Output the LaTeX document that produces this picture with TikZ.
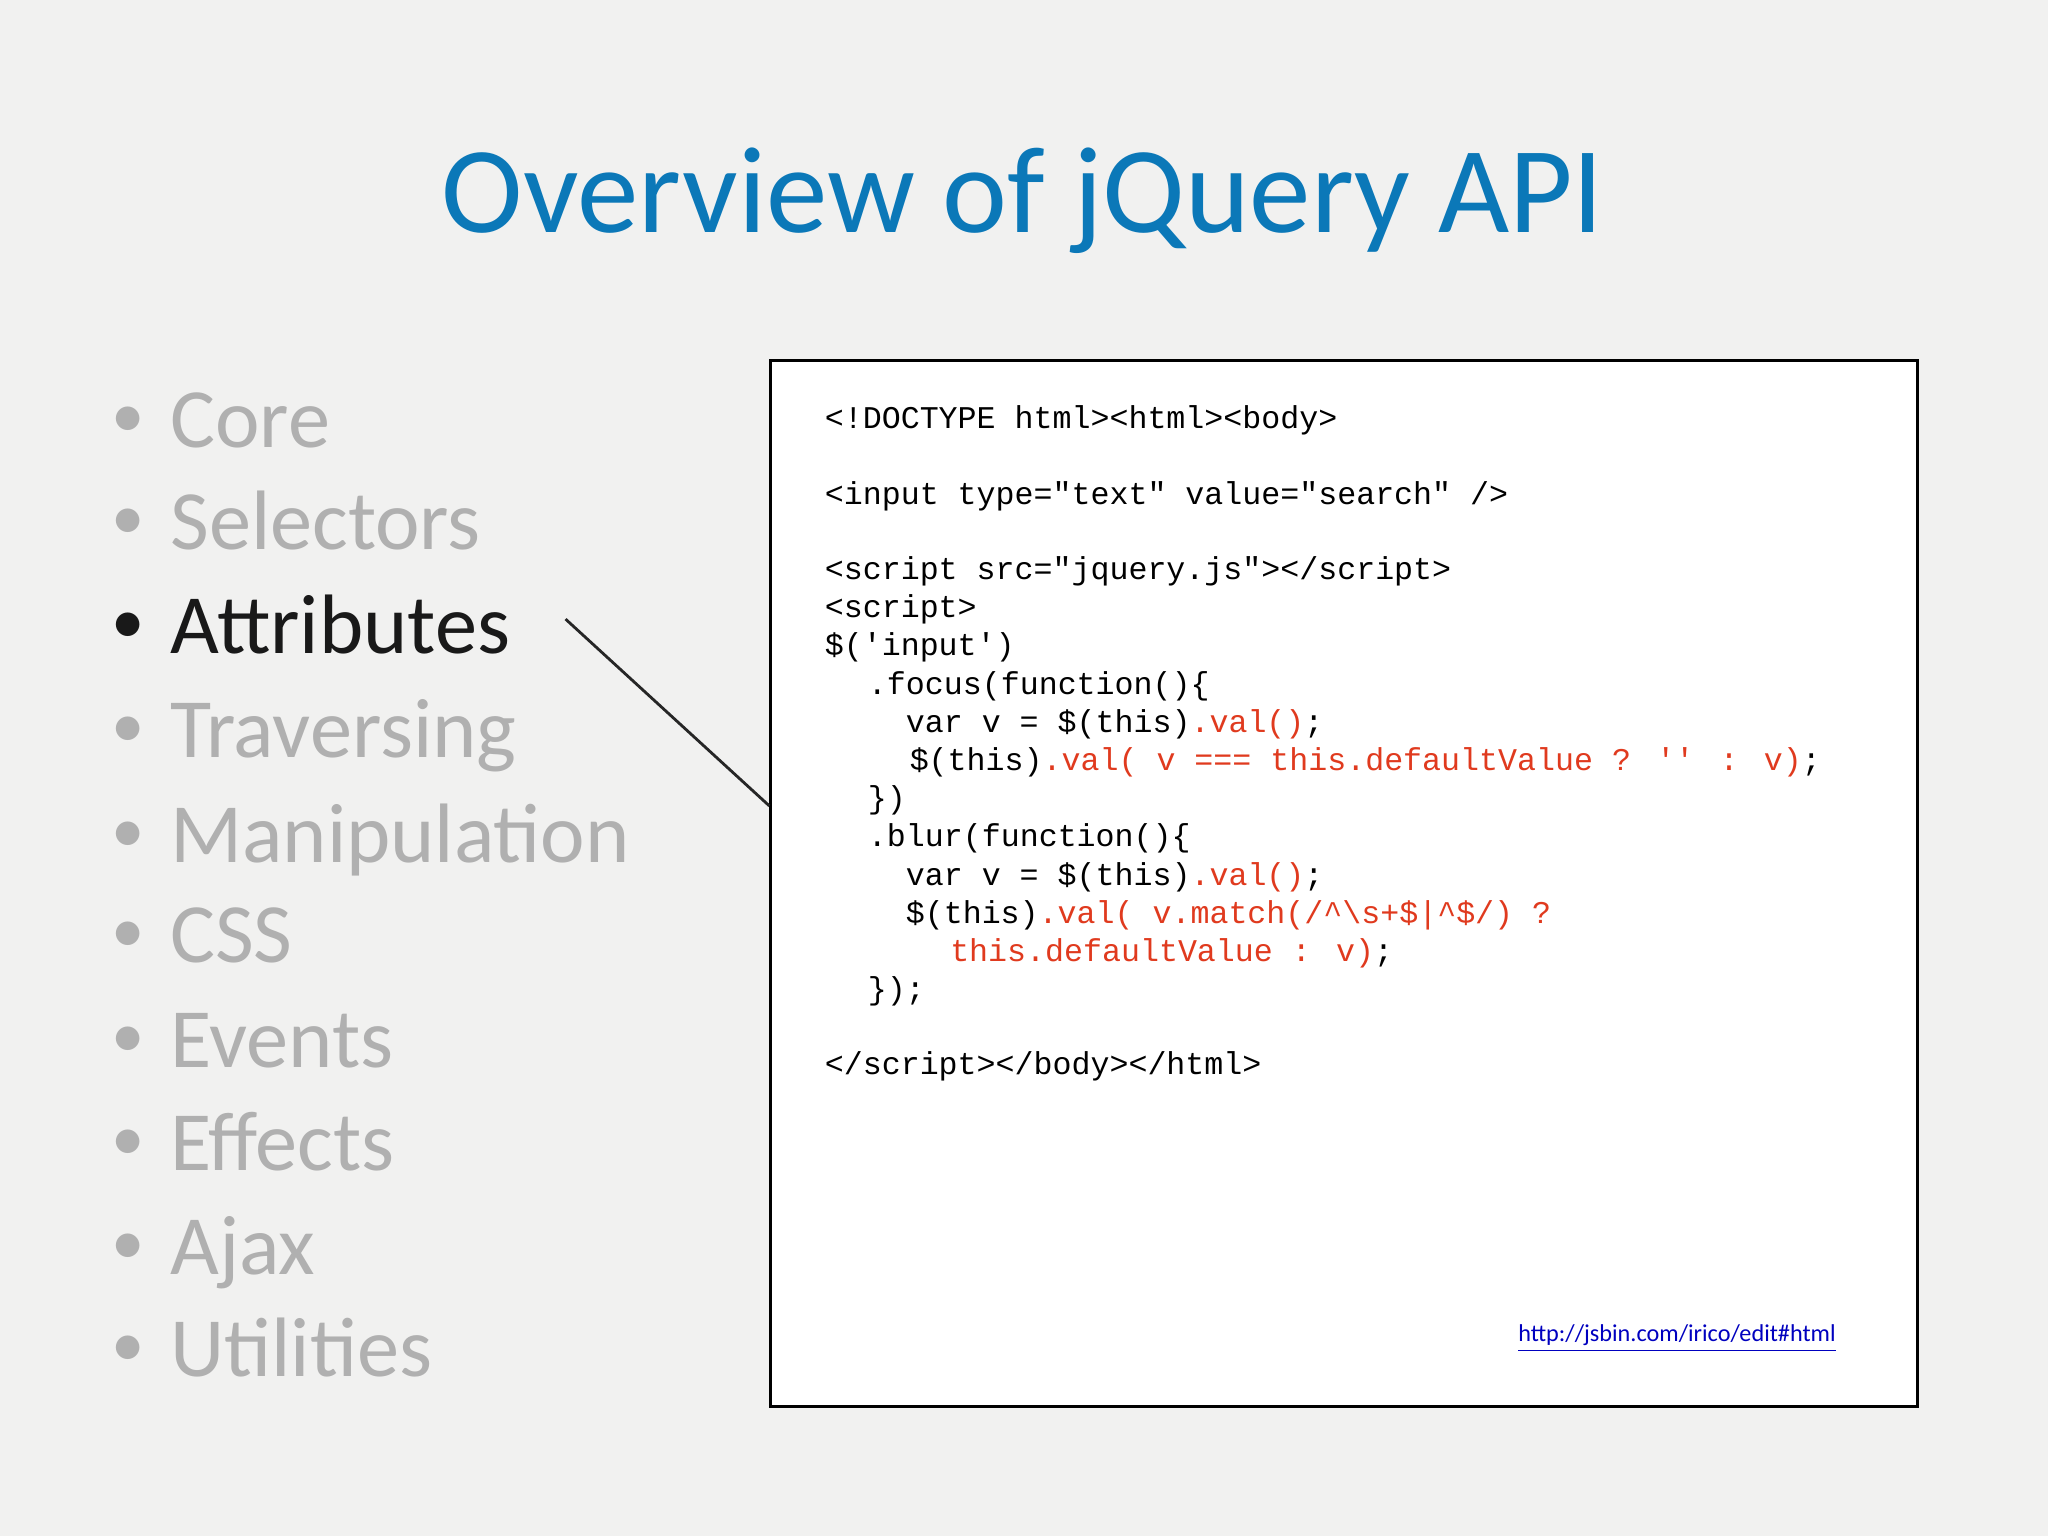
\documentclass[tikz,border=0pt]{standalone}
\usepackage{fontspec}
\setmainfont{Carlito}
\newfontfamily\codefont{Liberation Mono}
\usetikzlibrary{positioning}
\definecolor{titleblue}{HTML}{0B78B8}
\definecolor{itemgray}{HTML}{B0B0B0}
\definecolor{codered}{HTML}{E03A1E}
\definecolor{slidebg}{HTML}{F1F1F0}
\newcommand{\rd}[1]{\textcolor{codered}{#1}}
\newcommand{\bul}{{\fontsize{19}{20}\selectfont\raisebox{0.15em}{•}}\hspace{0.3em}}

\begin{document}
\begin{tikzpicture}[
    x=0.01306cm, y=-0.01306cm,
    item/.style={anchor=base west, inner sep=0pt, text=itemgray, font=\fontsize{24}{28}\selectfont},
    code/.style={anchor=base west, inner sep=0pt, font=\codefont\fontsize{9}{11}\selectfont},
    pane/.style={draw=black, thick, fill=white}
]
\useasboundingbox (0,0) rectangle (1568,1176);
\fill[slidebg] (0,0) rectangle (1568,1176);

% Title
\node[anchor=base, inner sep=0pt, text=titleblue, font=\fontsize{35}{42}\selectfont] (title) at (783,178) {Overview of jQuery API};

% Topic list
\node[item] (core) at (85,343) {\bul Core};
\node[item] (sel) at (85,421) {\bul Selectors};
\node[item, text=black!90] (attr) at (85,500) {\bul Attributes};
\node[item] (trav) at (85,580) {\bul Traversing};
\node[item] (manip) at (85,660) {\bul Manipulation};
\node[item] (css) at (85,737) {\bul CSS};
\node[item] (events) at (85,817) {\bul Events};
\node[item] (effects) at (85,896) {\bul Effects};
\node[item] (ajax) at (85,976) {\bul Ajax};
\node[item] (util) at (85,1054) {\bul Utilities};

% Code pane
\node[pane, minimum width=878*0.01306cm, minimum height=801*0.01306cm, anchor=north west] (box) at (589,275) {};
\node[code] (c1) at (631,328) {<!DOCTYPE html><html><body>};
\node[code] (c2) at (631,386) {<input type="text" value="search" />};
\node[code] (c3) at (631,444) {<script src="jquery.js"></script>};
\node[code] (c4) at (631,473) {<script>};
\node[code] (c5) at (631,502) {\$('input')};
\node[code] (c6) at (664,532) {.focus(function()\{};
\node[code] (c7) at (693,561) {var v = \$(this)\rd{.val()};};
\node[code] (c8) at (696,590) {\$(this)\rd{.val( v === this.defaultValue ? '' : v)};};
\node[code] (c9) at (664,619) {\})};
\node[code] (c10) at (664,648) {.blur(function()\{};
\node[code] (c11) at (693,678) {var v = \$(this)\rd{.val()};};
\node[code] (c12) at (693,707) {\$(this)\rd{.val( v.match(/\textasciicircum\textbackslash s+\$|\textasciicircum\$/) ?}};
\node[code] (c13) at (727,736) {\rd{this.defaultValue : v)};};
\node[code] (c14) at (664,765) {\});};
\node[code] (c15) at (631,823) {</script></body></html>};

% Link
\node[anchor=base east, inner sep=0pt, text=blue!75!black, font=\fontsize{6.9}{8}\selectfont] (link) at (1406,1027) {\underline{http://jsbin.com/irico/edit\#html}};

% Connector
\coordinate (lstart) at (433,474);
\coordinate (lend) at (box.west |- 0,617);
\draw[thick, black!85] (lstart) -- (lend);
\end{tikzpicture}
\end{document}
